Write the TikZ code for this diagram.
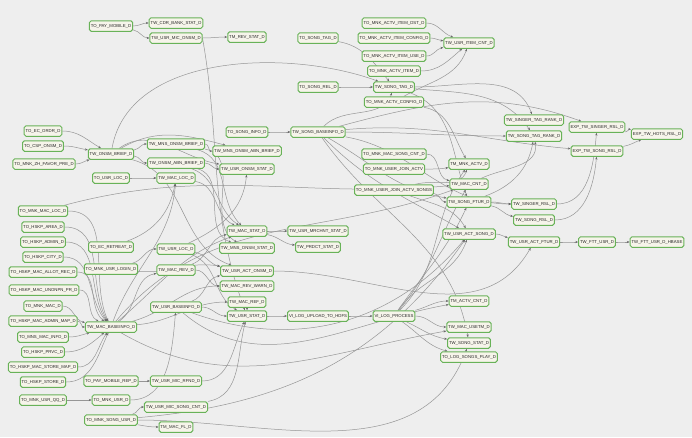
\documentclass[tikz,border=0pt]{standalone}
\usepackage{fontspec}
\newfontfamily\tblfont{Liberation Sans}
\usetikzlibrary{arrows.meta}
\definecolor{bgpaper}{RGB}{238,238,238}
\definecolor{tblgreen}{RGB}{104,178,88}
\definecolor{tblfill}{RGB}{246,244,234}
\definecolor{wiregray}{RGB}{150,150,150}
\pgfdeclarelayer{paperlayer}
\pgfdeclarelayer{wirelayer}
\pgfsetlayers{paperlayer,wirelayer,main}
\tikzset{
  tbl/.style={draw=tblgreen,line width=1pt,fill=tblfill,rounded corners=1.8pt,
    font=\tblfont\fontsize{4.3}{5}\selectfont,text=black!85,
    minimum height=10.5pt,inner xsep=1.4pt,inner ysep=0pt},
  dep/.style={draw=wiregray,line width=0.5pt,-{Stealth[length=2.8pt,width=2.2pt,color=black!60]}}
}
\begin{document}
\begin{tikzpicture}[x=1pt,y=1pt]
  \begin{pgfonlayer}{paperlayer}
    \fill[bgpaper] (0,0) rectangle (692,-437);
  \end{pgfonlayer}
  \useasboundingbox (0,0) rectangle (692,-437);
  % tables
  \foreach \n/\x/\y/\lbl in {
    paymob/111/26/TO\_PAY\_MOBILE\_D, cdrbank/176/23/TW\_CDR\_BANK\_STAT\_D,
    micons/176/38/TW\_USR\_MIC\_ONSM\_D, revstat/247/37/TM\_REV\_STAT\_D,
    songtag/318/38/TO\_SONG\_TAG\_D, itemdst/394/23/TO\_MNK\_ACTV\_ITEM\_DST\_D,
    itemcfg/394/38/TO\_MNK\_ACTV\_ITEM\_CONFIG\_D, itemuse/394/56/TO\_MNK\_ACTV\_ITEM\_USE\_D,
    actvitem/394/71/TO\_MNK\_ACTV\_ITEM\_D, itemcnt/469/43/TW\_USR\_ITEM\_CNT\_D,
    songrel/318/87/TO\_SONG\_REL\_D, twsongtag/394/87/TW\_SONG\_TAG\_D,
    actvcfg/394/102/TO\_MNK\_ACTV\_CONFIG\_D, singertagrank/534/120/TW\_SINGER\_TAG\_RANK\_D,
    songtagrank/534/136/TW\_SONG\_TAG\_RANK\_D, expsinger/597/127/EXP\_TW\_SINGER\_RSL\_D,
    exphots/657/134/EXP\_TW\_HOTS\_RSL\_D, expsong/597/151/EXP\_TW\_SONG\_RSL\_D,
    ecordr/43/131/TO\_EC\_ORDR\_D, csponsm/43/146/TO\_CSP\_ONSM\_D,
    zhfavor/44/164/TO\_MNK\_ZH\_FAVOR\_PRE\_D, onsmbrief/111/154/TW\_ONSM\_BRIEF\_D,
    mnsbrief/176/144/TW\_MNS\_ONSM\_BRIEF\_D, abnbrief/176/163/TW\_ONSM\_ABN\_BRIEF\_D,
    usrlocsrc/111/178/TO\_USR\_LOC\_D, macloc/176/178/TW\_MAC\_LOC\_D,
    songinfo/247/132/TO\_SONG\_INFO\_D, mnsabn/247/151/TW\_MNS\_ONSM\_ABN\_BRIEF\_D,
    onsmstat/247/169/TW\_USR\_ONSM\_STAT\_D, songbase/318/132/TW\_SONG\_BASEINFO\_D,
    macsongcnt/394/154/TO\_MNK\_MAC\_SONG\_CNT\_D, joinactv/394/169/TO\_MNK\_USER\_JOIN\_ACTV,
    joinsongs/394/190/TO\_MNK\_USER\_JOIN\_ACTV\_SONGS, mnkactv/469/164/TM\_MNK\_ACTV\_D,
    maccnt/469/184/TW\_MAC\_CNT\_D, songftur/469/202/TW\_SONG\_FTUR\_D,
    actsong/469/234/TW\_USR\_ACT\_SONG\_D, singerrsl/534/204/TW\_SINGER\_RSL\_D,
    songrsl/534/220/TW\_SONG\_RSL\_D, actftur/534/242/TW\_USR\_ACT\_FTUR\_D,
    fttusr/597/242/TW\_FTT\_USR\_D, ftthbase/657/242/TW\_FTT\_USR\_D\_HBASE,
    macloc0/43/211/TO\_MNK\_MAC\_LOC\_D, area/43/227/TO\_HSKP\_AREA\_D,
    admin/43/242/TO\_HSKP\_ADMIN\_D, city/43/257/TO\_HSKP\_CITY\_D,
    allot/43/272/TO\_HSKP\_MAC\_ALLOT\_REC\_D, unonpn/44/290/TO\_HSKP\_MAC\_UNONPN\_PR\_D,
    mnkmac/43/306/TO\_MNK\_MAC\_D, adminmap/43/321/TO\_HSKP\_MAC\_ADMIN\_MAP\_D,
    mnsmac/43/337/TO\_MNS\_MAC\_INFO\_D, prvc/43/352/TO\_HSKP\_PRVC\_D,
    storemap/43/367/TO\_HSKP\_MAC\_STORE\_MAP\_D, store/43/382/TO\_HSKP\_STORE\_D,
    usrqq/43/400/TO\_MNK\_USR\_QQ\_D, retreat/111/247/TO\_EC\_RETREAT\_D,
    login/111/269/TO\_MNK\_USR\_LOGIN\_D, macbase/111/327/TW\_MAC\_BASEINFO\_D,
    payrep/111/381/TO\_PAY\_MOBILE\_REP\_D, mnkusr/111/400/TO\_MNK\_USR\_D,
    songusr/111/420/TO\_MNK\_SONG\_USR\_D, usrloc/176/249/TW\_USR\_LOC\_D,
    macrev/176/270/TW\_MAC\_REV\_D, usrbase/176/307/TW\_USR\_BASEINFO\_D,
    micrfnd/176/381/TW\_USR\_MIC\_RFND\_D, micsong/176/407/TW\_USR\_MIC\_SONG\_CNT\_D,
    macfl/176/427/TM\_MAC\_FL\_D, macstat/247/231/TW\_MAC\_STAT\_D,
    mnsstat/247/248/TW\_MNS\_ONSM\_STAT\_D, actonsm/247/271/TW\_USR\_ACT\_ONSM\_D,
    revwarn/247/286/TW\_MAC\_REV\_WARN\_D, macref/247/302/TW\_MAC\_REF\_D,
    usrstat/247/316/TW\_USR\_STAT\_D, mrchnt/318/231/TW\_USR\_MRCHNT\_STAT\_D,
    prdct/318/247/TW\_PRDCT\_STAT\_D, hdfs/318/316/VI\_LOG\_UPLOAD\_TO\_HDFS,
    logproc/394/316/VI\_LOG\_PROCESS, actvcnt/469/301/TM\_ACTV\_CNT\_D,
    usetm/469/327/TW\_MAC\_USETM\_D, songstat/469/343/TW\_SONG\_STAT\_D,
    songplay/469/357/TO\_LOG\_SONGS\_PLAY\_D}{
    \node[tbl] (\n) at (\x,-\y) {\lbl};
  }
  % dependencies
  \begin{pgfonlayer}{wirelayer}
    \foreach \a/\b/\o/\i in {
      paymob/cdrbank/0/180, paymob/micons/-10/180, micons/revstat/0/180,
      micons.east/usrstat/-80/110,
      songtag/twsongtag/-10/130, songrel/twsongtag/0/180,
      itemdst/itemcnt/0/160, itemcfg/itemcnt/0/175, itemuse/itemcnt/0/190,
      actvitem/itemcnt/0/-140, actvcfg/itemcnt/30/-110,
      twsongtag/singertagrank/0/110, twsongtag/songtagrank/-5/125,
      twsongtag/songftur/-20/110, actvcfg/mnkactv/-10/120,
      songinfo/songbase/0/180, songbase/twsongtag/45/-110,
      songbase/songtagrank/0/180, songbase/expsinger/15/160,
      songbase/expsong/5/175, songbase/singerrsl/-10/180,
      songbase/songftur/-30/170, songbase/actsong/-45/150,
      songbase/songstat/-55/100,
      macsongcnt/maccnt/0/170, joinactv/mnkactv/0/190,
      joinsongs/mnkactv/15/-110, joinsongs/songftur/-5/180,
      joinsongs/actsong/-20/120,
      songftur/singerrsl/0/180, songftur/songrsl/-10/170,
      songftur/songtagrank/20/-100, maccnt/songtagrank/25/-80,
      singerrsl/expsinger/0/-95, songrsl/expsong/0/-95,
      expsinger/exphots/-10/170, expsong/exphots/10/-160,
      actsong/actftur/0/170, actftur/fttusr/0/180, fttusr/ftthbase/0/180,
      ecordr/onsmbrief/0/150, csponsm/onsmbrief/0/170, zhfavor/onsmbrief/0/195,
      onsmbrief/mnsbrief/10/180, onsmbrief/abnbrief/-5/180,
      onsmbrief/mnsabn/30/165, onsmbrief/onsmstat/35/170,
      onsmbrief/actonsm/-15/160,
      mnsbrief/mnsabn/0/180, mnsbrief/macstat/-15/135, mnsbrief/mnsstat/-10/150,
      abnbrief/onsmstat/0/180, abnbrief/macstat/-20/145, abnbrief/mnsstat/-15/160,
      usrlocsrc/macloc/0/180, macloc/macstat/-10/155, retreat/macloc/20/-100,
      macloc0/macbase/0/115, area/macbase/0/120, admin/macbase/0/125,
      city/macbase/0/130, allot/macbase/0/140, unonpn/macbase/0/155,
      mnkmac/macbase/0/170, adminmap/macbase/0/180, mnsmac/macbase/0/-165,
      prvc/macbase/0/-140, storemap/macbase/0/-125, store/macbase/0/-115,
      macloc0/maccnt/15/185,
      login/usrloc/15/180, login/actonsm/-5/170,
      macbase/macloc/70/-95, macbase/macrev/35/190, macbase/macstat/40/200,
      macbase/revwarn/15/180, macbase/macref/5/180, macbase/maccnt/50/200,
      macbase/usetm/-30/-170,
      usrloc/onsmstat/25/-95, usrloc/actonsm/-10/170, usrloc/usrstat/-20/150,
      macrev/revwarn/0/180, macrev/macstat/20/190,
      usrbase/usrstat/0/180, usrbase/actonsm/20/190, usrbase/actvcnt/-40/190,
      usrbase/actsong/-20/-130, actonsm/actftur/0/-120,
      macstat/mrchnt/0/180, macstat/prdct/-10/175,
      usrstat/hdfs/0/180, hdfs/logproc/0/180,
      logproc/actvcnt/15/180, logproc/usetm/0/180,
      logproc/songstat/-25/170, logproc/songplay/-35/165,
      logproc/actsong/55/-110, logproc/songftur/55/-115,
      logproc/maccnt/50/-120, logproc/mnkactv/45/-125,
      macref/usrstat/-90/90,
      usrqq/mnkusr/0/180, mnkusr/usrbase/0/-95, payrep/micrfnd/0/180,
      micrfnd/usrstat/0/-115, micsong/usrstat/10/-105,
      songusr/micsong/15/180, songusr/macfl/-10/180,
      songusr/songstat/0/-110, songusr/actsong/5/-125}{
      \draw[dep] (\a) to[out=\o,in=\i] (\b);
    }
    \draw[dep] (onsmbrief) to[out=80,in=160,looseness=0.9] (twsongtag);
  \end{pgfonlayer}
\end{tikzpicture}
\end{document}
